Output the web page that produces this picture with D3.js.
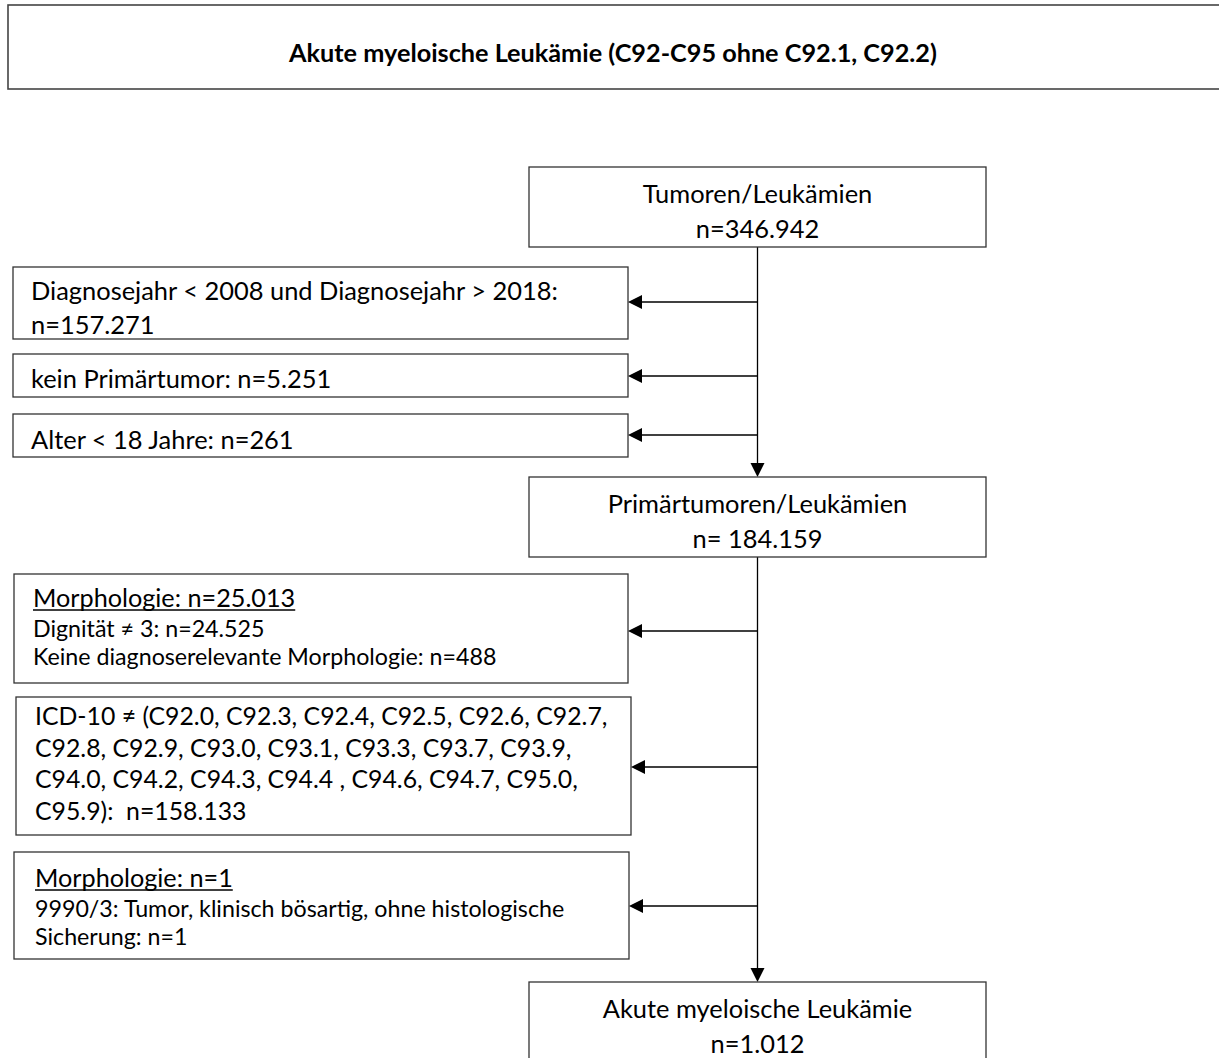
<!DOCTYPE html>
<html><head><meta charset="utf-8">
<script src="https://cdn.jsdelivr.net/npm/d3@7"></script>
<style>body{margin:0;background:#fff} svg{display:block} text{white-space:pre}</style>
</head><body><svg id="c" width="1219" height="1058"></svg>
<script>
// ---------- data ----------
const titleText = "Akute myeloische Leukämie (C92-C95 ohne C92.1, C92.2)";
const stageLabels = ["Tumoren/Leukämien", "Primärtumoren/Leukämien", "Akute myeloische Leukämie"];
const stageCounts = ["n=346.942", "n= 184.159", "n=1.012"];
const exclusionHeadings = [null, null, null, "Morphologie: n=25.013", null, "Morphologie: n=1"];
const exclusionLines = [
  ["Diagnosejahr < 2008 und Diagnosejahr > 2018:", "n=157.271"],
  ["kein Primärtumor: n=5.251"],
  ["Alter < 18 Jahre: n=261"],
  ["Dignität ≠ 3: n=24.525", "Keine diagnoserelevante Morphologie: n=488"],
  ["ICD-10 ≠ (C92.0, C92.3, C92.4, C92.5, C92.6, C92.7,",
   "C92.8, C92.9, C93.0, C93.1, C93.3, C93.7, C93.9,",
   "C94.0, C94.2, C94.3, C94.4 , C94.6, C94.7, C95.0,",
   "C95.9):  n=158.133"],
  ["9990/3: Tumor, klinisch bösartig, ohne histologische", "Sicherung: n=1"]
];

// ---------- layout ----------
const FONT = "Lato, 'Noto Sans', sans-serif";
const layout = {
  title: {x: 8, y: 5, w: 1240, h: 84, cx: 613, base: 62},
  stage: {x: 529, w: 457, h: 80, tops: [167, 477, 982], base: [36, 71]},
  spineX: 757.5,
  excl: [
    {x: 13, y: 267, w: 615, h: 72, arrow: 302, tx: 31, base: [300, 334]},
    {x: 13, y: 354, w: 615, h: 43, arrow: 376, tx: 31, base: [388]},
    {x: 13, y: 414, w: 615, h: 43, arrow: 435, tx: 31, base: [449]},
    {x: 14, y: 574, w: 614, h: 109, arrow: 631, tx: 33, base: [607, 637, 665]},
    {x: 16, y: 697, w: 615, h: 138, arrow: 767, tx: 35, base: [725, 757, 788, 820]},
    {x: 14, y: 852, w: 615, h: 107, arrow: 906, tx: 35, base: [887, 917, 945]}
  ],
  head: 14, halfW: 7
};

function draw() {
  const svg = d3.select("#c");
  function fit(strs, targets, weight) {
    let s = 0;
    strs.forEach((str, i) => {
      const t = svg.append("text").attr("font-family", FONT).attr("font-weight", weight)
        .attr("font-size", 100).text(str);
      const w = t.node().getComputedTextLength();
      t.remove();
      s += 100 * targets[i] / w;
    });
    return s / strs.length;
  }
  const fTitle = fit([titleText], [648], 700);
  const fMain = fit([exclusionLines[0][0], stageLabels[0], exclusionLines[1][0], stageLabels[1]], [520, 236, 300, 296], 400);
  const fCode = fit([exclusionLines[4][0], exclusionLines[4][1]], [565, 544], 400);
  const fHead = fit([exclusionHeadings[3], exclusionHeadings[5]], [262, 198], 400);
  const fSmall = fit([exclusionLines[5][0], exclusionLines[3][1]], [529, 464], 400);

  const stroke = "#333";
  // title box
  const T = layout.title;
  svg.append("rect").attr("x", T.x).attr("y", T.y).attr("width", T.w).attr("height", T.h)
    .attr("fill", "none").attr("stroke", "#444").attr("stroke-width", 1.6);
  svg.append("text").attr("x", T.cx).attr("y", T.base).attr("text-anchor", "middle")
    .attr("font-family", FONT).attr("font-weight", 700).attr("font-size", fTitle).text(titleText);

  // spine lines with arrows
  const S = layout.stage, X = layout.spineX;
  const g = svg.append("g");
  function downArrow(y1, y2) {
    g.append("line").attr("x1", X).attr("x2", X).attr("y1", y1).attr("y2", y2 - layout.head + 1)
      .attr("stroke", "#000").attr("stroke-width", 1.3);
    g.append("path").attr("d", `M${X - layout.halfW},${y2 - layout.head}L${X + layout.halfW},${y2 - layout.head}L${X},${y2}Z`)
      .attr("fill", "#000");
  }
  downArrow(S.tops[0] + S.h, S.tops[1]);
  downArrow(S.tops[1] + S.h, S.tops[2]);

  // stage boxes
  const sg = svg.selectAll("g.stage").data(stageLabels).join("g").attr("class", "stage");
  sg.append("rect").attr("x", S.x).attr("y", (d, i) => S.tops[i]).attr("width", S.w).attr("height", S.h)
    .attr("fill", "#fff").attr("stroke", stroke).attr("stroke-width", 1.3);
  sg.append("text").attr("x", S.x + S.w / 2).attr("y", (d, i) => S.tops[i] + S.base[0])
    .attr("text-anchor", "middle").attr("font-family", FONT).attr("font-size", fMain).text(d => d);
  sg.append("text").attr("x", S.x + S.w / 2).attr("y", (d, i) => S.tops[i] + S.base[1])
    .attr("text-anchor", "middle").attr("font-family", FONT).attr("font-size", fMain).text((d, i) => stageCounts[i]);

  // exclusion boxes
  exclusionLines.forEach((lines, i) => {
    const E = layout.excl[i];
    const eg = svg.append("g");
    eg.append("rect").attr("x", E.x).attr("y", E.y).attr("width", E.w).attr("height", E.h)
      .attr("fill", "#fff").attr("stroke", stroke).attr("stroke-width", 1.3);
    const tipX = E.x + E.w;
    eg.append("line").attr("x1", X).attr("x2", tipX + layout.head - 1).attr("y1", E.arrow).attr("y2", E.arrow)
      .attr("stroke", "#000").attr("stroke-width", 1.3);
    eg.append("path").attr("d", `M${tipX},${E.arrow}L${tipX + layout.head},${E.arrow - layout.halfW}L${tipX + layout.head},${E.arrow + layout.halfW}Z`)
      .attr("fill", "#000");
    let k = 0;
    const head = exclusionHeadings[i];
    if (head) {
      const t = eg.append("text").attr("x", E.tx).attr("y", E.base[0]).attr("font-family", FONT)
        .attr("font-size", fHead).text(head);
      const w = t.node().getComputedTextLength();
      eg.append("line").attr("x1", E.tx).attr("x2", E.tx + w).attr("y1", E.base[0] + 3).attr("y2", E.base[0] + 3)
        .attr("stroke", "#000").attr("stroke-width", 1.3);
      k = 1;
    }
    const size = head ? fSmall : (lines.length > 3 ? fCode : fMain);
    lines.forEach((ln, j) => {
      eg.append("text").attr("x", E.tx).attr("y", E.base[j + k]).attr("font-family", FONT)
        .attr("font-size", size).text(ln);
    });
  });
}
if (document.fonts && document.fonts.ready) document.fonts.ready.then(draw); else draw();
</script></body></html>
